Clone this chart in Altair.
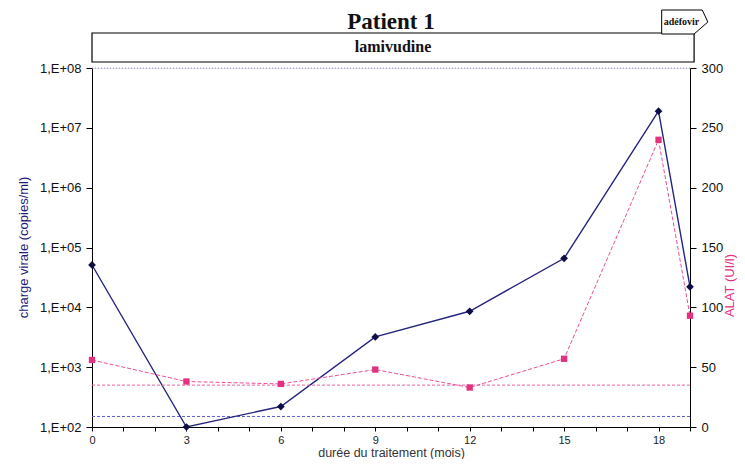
import altair as alt
import pandas as pd

# ---- data ----
months = [0, 3, 6, 9, 12, 15, 18, 19]
viral_load = [51000, 100, 220, 3200, 8600, 66000, 19000000, 22000]
alat = [56, 38, 36, 48, 33, 57, 240, 93]
viral_threshold = [150]
alat_threshold = [35]
viral_top = [1e8]
treatments = ["lamivudine", "adéfovir"]
treat_start = [0, 18.1]
treat_end = [19.13, 19.6]
left_ticks = [1e2, 1e3, 1e4, 1e5, 1e6, 1e7, 1e8]
right_ticks = [0, 50, 100, 150, 200, 250, 300]
x_ticks = list(range(0, 20))
chart_title = "Patient 1"

df = pd.DataFrame({"mois": months, "charge": viral_load, "alat": alat})
tr = pd.DataFrame({"traitement": treatments, "debut": treat_start, "fin": treat_end})
tr["milieu"] = (tr["debut"] + tr["fin"]) / 2

SANS = "Liberation Sans"
SERIF = "Liberation Serif"
NAVY = "#25257d"
NAVY_DARK = "#0e0e45"
PINK = "#ea4f97"
PINK_DARK = "#e3307f"

xscale = alt.Scale(domain=[0, 19], nice=False, zero=False)
xaxis = alt.Axis(
    values=x_ticks,
    labelExpr="datum.value % 3 == 0 && datum.value <= 18 ? datum.label : ''",
    title="durée du traitement (mois)",
    tickSize=4, labelPadding=3,
    titleY=29, titleBaseline="alphabetic",
    labelFontSize=11, titleFontSize=12.5, labelFont=SANS, titleFont=SANS,
    labelColor="#222", titleColor="#333", titleFontWeight="normal",
    domainColor="#000", tickColor="#000", grid=False,
    labelOverlap=False, labelFlush=False,
)


def X(field):
    return alt.X(field, type="quantitative", scale=xscale, axis=xaxis)


yleft_scale = alt.Scale(type="log", domain=[1e2, 1e8], nice=False)
yleft_axis = alt.Axis(
    values=left_ticks,
    labelExpr="'1,E+0' + format(log(datum.value) / LN10, '.0f')",
    title="charge virale (copies/ml)",
    orient="left", grid=False,
    tickSize=6, labelPadding=5,
    labelFont=SANS, labelFontSize=13, labelColor="#111",
    titleFont=SANS, titleFontSize=13, titleColor="#1e1e78", titleFontWeight="normal",
    titleAngle=270, titleAlign="center", titleBaseline="middle",
    titleX=-69, titleY=179,
    domainColor="#000", tickColor="#000", labelFlush=False,
)

yright_scale = alt.Scale(domain=[0, 300], nice=False)
yright_axis = alt.Axis(
    values=right_ticks,
    title="ALAT (UI/l)",
    orient="right", grid=False,
    tickSize=6, labelPadding=5,
    labelFont=SANS, labelFontSize=13, labelColor="#111",
    titleFont=SANS, titleFontSize=13, titleColor=PINK_DARK, titleFontWeight="normal",
    titleAngle=270, titleAlign="center", titleBaseline="middle",
    titleX=39, titleY=217,
    domainColor="#000", tickColor="#000", labelFlush=False,
)

base = alt.Chart(df)

# ---- viral load (left, log) ----
vl_line = base.mark_line(color=NAVY, strokeWidth=1.4).encode(
    x=X("mois"), y=alt.Y("charge:Q", scale=yleft_scale, axis=yleft_axis)
)
vl_pts = base.mark_point(shape="diamond", filled=True, color=NAVY_DARK, size=60, opacity=1).encode(
    x=X("mois"), y=alt.Y("charge:Q", scale=yleft_scale, axis=yleft_axis)
)
vl_thr = alt.Chart(pd.DataFrame({"v": viral_threshold})).mark_rule(
    color="#5a5ad0", strokeWidth=1, strokeDash=[3, 2]
).encode(y=alt.Y("v:Q", scale=yleft_scale, axis=yleft_axis))
vl_top = alt.Chart(pd.DataFrame({"v": viral_top})).mark_rule(
    color="#8f8fd6", strokeWidth=1, strokeDash=[1, 2]
).encode(y=alt.Y("v:Q", scale=yleft_scale, axis=yleft_axis))
left = alt.layer(vl_thr, vl_top, vl_line, vl_pts)

# ---- ALAT (right, linear) ----
al_line = base.mark_line(color=PINK, strokeWidth=1, strokeDash=[4, 2]).encode(
    x=X("mois"), y=alt.Y("alat:Q", scale=yright_scale, axis=yright_axis)
)
al_pts = base.mark_point(shape="square", filled=True, color=PINK_DARK, size=40, opacity=1).encode(
    x=X("mois"), y=alt.Y("alat:Q", scale=yright_scale, axis=yright_axis)
)
al_thr = alt.Chart(pd.DataFrame({"v": alat_threshold})).mark_rule(
    color="#ee5fa0", strokeWidth=1, strokeDash=[3, 2]
).encode(y=alt.Y("v:Q", scale=yright_scale, axis=yright_axis))
right = alt.layer(al_thr, al_line, al_pts)

# ---- treatment banners ----
lam = alt.Chart(tr.iloc[[0]])
ade = alt.Chart(tr.iloc[[1]])
lam_box = lam.mark_rect(fill="white", stroke="#000", strokeWidth=1.2).encode(
    x=X("debut"), x2="fin", y=alt.value(-35), y2=alt.value(-6)
)
lam_txt = lam.mark_text(font=SERIF, fontSize=16, fontWeight="bold", color="#111",
                        baseline="middle", align="center").encode(
    x=X("milieu"), y=alt.value(-21), text="traitement:N"
)
pentagon = "M0,-0.6 L2.03,-0.6 L2.31,0 L1.62,0.6 L0,0.6 Z"
ade_box = ade.mark_point(shape=pentagon, size=1600, filled=True, fill="white",
                         stroke="#000", strokeWidth=1, opacity=1).encode(
    x=X("debut"), y=alt.value(-46)
)
ade_txt = ade.mark_text(font=SERIF, fontSize=10, fontWeight="bold", color="#111",
                        baseline="middle", align="left", dx=2).encode(
    x=X("debut"), y=alt.value(-46), text="traitement:N"
)
title_txt = alt.Chart(pd.DataFrame({"t": [chart_title]})).mark_text(
    font=SERIF, fontSize=23, fontWeight="bold", color="#111", baseline="alphabetic", align="center"
).encode(x=alt.value(299), y=alt.value(-39), text="t:N")
deco = alt.layer(lam_box, lam_txt, ade_box, ade_txt, title_txt)

chart = alt.layer(left, right, deco).resolve_scale(y="independent").properties(
    width=598, height=359,
    autosize=alt.AutoSizeParams(type="none"),
    padding={"left": 84, "top": 60, "right": 47, "bottom": 32},
).configure_view(stroke=None).configure(background="white")

chart.save("out.html", embed_options={"renderer": "svg", "actions": False})
